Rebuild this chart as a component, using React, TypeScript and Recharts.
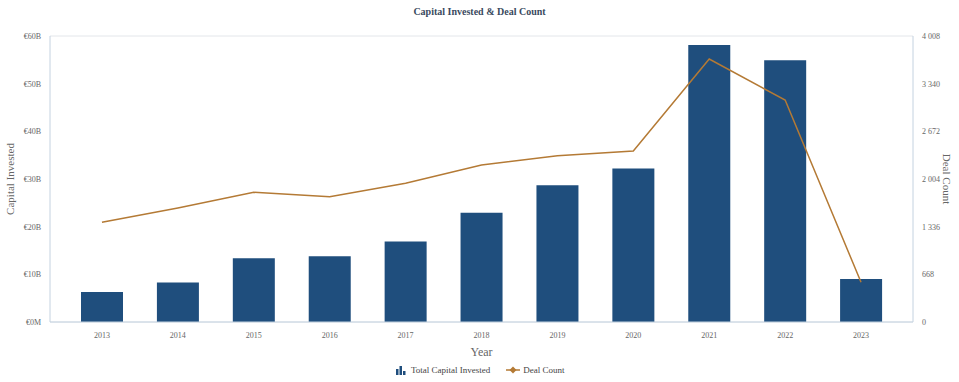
import React from 'react';
import { ComposedChart, Bar, Line, XAxis, YAxis, CartesianGrid, Legend } from 'recharts';

const years = ['2013', '2014', '2015', '2016', '2017', '2018', '2019', '2020', '2021', '2022', '2023'];
const capitalInvested = [6.3, 8.3, 13.4, 13.8, 16.9, 22.9, 28.7, 32.2, 58.1, 54.9, 9.0];
const dealCount = [1397, 1597, 1817, 1755, 1943, 2200, 2330, 2396, 3685, 3110, 556];
const leftTicks = [0, 10, 20, 30, 40, 50, 60];
const rightTicks = [0, 668, 1336, 2004, 2672, 3340, 4008];

const data = years.map((y, i) => ({ year: y, capital: capitalInvested[i], deals: dealCount[i] }));

const BAR = '#1F4E7D';
const LINE = '#B47A35';
const FONT = '"Liberation Serif", "DejaVu Serif", serif';
const TXT = '#666';

const fmtLeft = (v: number) => (v === 0 ? '€0M' : `€${v}B`);
const fmtRight = (v: number) => {
  const s = String(v);
  return s.length > 3 ? s.slice(0, s.length - 3) + ' ' + s.slice(-3) : s;
};

const LegendContent = () => (
  <div style={{ display: 'flex', alignItems: 'center', fontFamily: FONT, fontSize: 9, color: '#444', whiteSpace: 'nowrap' }}>
    <svg width={10} height={10} style={{ marginRight: 5 }}>
      <rect x={0} y={4} width={2.5} height={6} fill={BAR} />
      <rect x={3.5} y={1} width={2.5} height={9} fill={BAR} />
      <rect x={7} y={6} width={2.5} height={4} fill={BAR} />
    </svg>
    <span style={{ marginRight: 16 }}>Total Capital Invested</span>
    <svg width={14} height={10} style={{ marginRight: 3 }}>
      <line x1={0} y1={5} x2={14} y2={5} stroke={LINE} strokeWidth={1.5} />
      <path d="M7 1.5 L10.5 5 L7 8.5 L3.5 5 Z" fill={LINE} />
    </svg>
    <span>Deal Count</span>
  </div>
);

export default function App() {
  return (
    <div style={{ position: 'absolute', left: 0, top: 0, width: 959, height: 382, background: '#fff' }}>
      <div
        style={{
          position: 'absolute', left: 0, top: 6, width: 959, textAlign: 'center',
          fontFamily: FONT, fontWeight: 'bold', fontSize: 10, color: '#3A4A5E',
        }}
      >
        Capital Invested &amp; Deal Count
      </div>
      <ComposedChart
        width={959}
        height={382}
        data={data}
        margin={{ top: 36, right: 0, bottom: 20, left: 0 }}
        style={{ fontFamily: FONT }}
      >
        <CartesianGrid vertical={false} stroke="#E3E6EA" strokeWidth={1} />
        <XAxis
          dataKey="year"
          height={40}
          padding={{ left: 14, right: 14 }}
          tickLine={false}
          axisLine={{ stroke: '#C4D2E0' }}
          tick={{ fontSize: 8, fill: TXT, fontFamily: FONT }}
          tickMargin={4}
          label={{ value: 'Year', position: 'insideBottom', offset: 6, fontSize: 12, fill: TXT, fontFamily: FONT }}
        />
        <YAxis
          yAxisId="left"
          width={50}
          domain={[0, 60]}
          ticks={leftTicks}
          tickFormatter={fmtLeft}
          tickLine={false}
          axisLine={{ stroke: '#C4D2E0' }}
          tick={{ fontSize: 8, fill: TXT, fontFamily: FONT }}
          tickMargin={3}
          label={{ value: 'Capital Invested', angle: -90, position: 'insideLeft', offset: 10, fontSize: 11, fill: TXT, fontFamily: FONT, style: { textAnchor: 'middle' } }}
        />
        <YAxis
          yAxisId="right"
          orientation="right"
          width={46}
          domain={[0, 4008]}
          ticks={rightTicks}
          tickFormatter={fmtRight}
          tickLine={false}
          axisLine={{ stroke: '#C4D2E0' }}
          tick={{ fontSize: 8, fill: TXT, fontFamily: FONT }}
          tickMargin={3}
          label={{ value: 'Deal Count', angle: 90, position: 'insideRight', offset: 12, fontSize: 11, fill: TXT, fontFamily: FONT, style: { textAnchor: 'middle' } }}
        />
        <Bar yAxisId="left" dataKey="capital" name="Total Capital Invested" fill={BAR} barSize={42} isAnimationActive={false} />
        <Line
          yAxisId="right"
          type="linear"
          dataKey="deals"
          name="Deal Count"
          stroke={LINE}
          strokeWidth={1.5}
          dot={false}
          activeDot={false}
          isAnimationActive={false}
        />
        <Legend
          layout="vertical"
          align="center"
          verticalAlign="middle"
          content={<LegendContent />}
          wrapperStyle={{ left: 396, top: 365, width: 200, height: 14 }}
        />
      </ComposedChart>
    </div>
  );
}
